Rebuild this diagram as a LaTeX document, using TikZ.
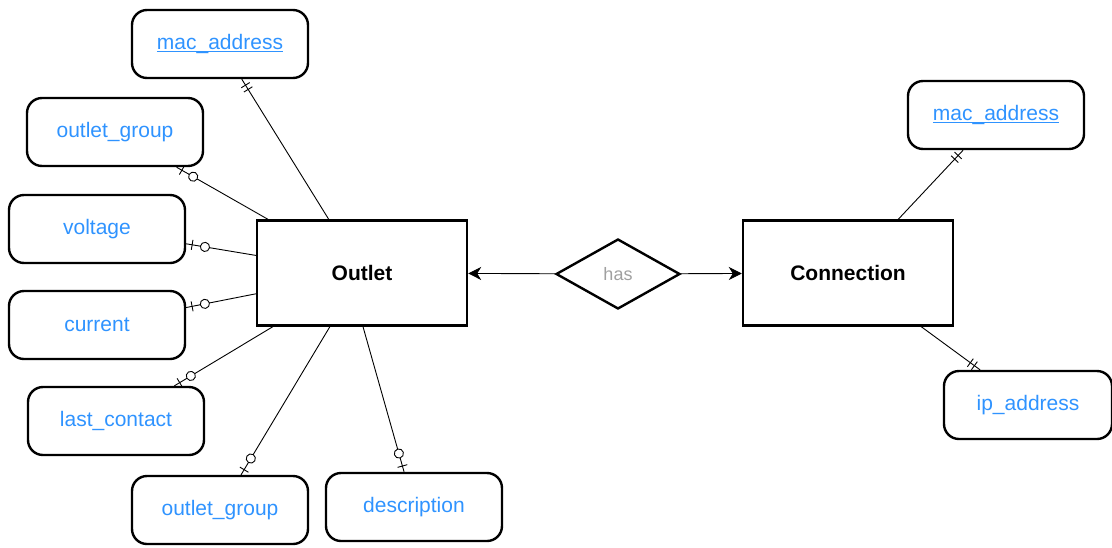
\documentclass[tikz,border=0pt]{standalone}
\usepackage{fontspec}
\setmainfont{Liberation Sans}
\usetikzlibrary{arrows.meta,shapes.geometric,decorations.markings,calc}
\definecolor{attrblue}{HTML}{2F93FF}
\definecolor{relgray}{HTML}{A0A0A0}
\newcommand{\keyattr}[1]{\underline{\smash{#1}}\vphantom{#1}}
\begin{document}
\begin{tikzpicture}[x=1pt,y=-1pt,
  attr/.style={draw, line width=2.4pt, rounded corners=15pt, minimum width=176pt, minimum height=68pt,
    text=attrblue, font=\fontsize{21}{25}\selectfont, inner sep=0pt},
  ent/.style={draw, line width=2.4pt, minimum width=210pt, minimum height=105pt,
    font=\bfseries\fontsize{21}{25}\selectfont, inner sep=0pt},
  rel/.style={draw, diamond, line width=2.4pt, minimum width=124pt, minimum height=70pt,
    text=relgray, font=\fontsize{18}{22}\selectfont, inner sep=0pt},
  conn/.style={draw, line width=0.9pt},
  onlyone/.style={conn, postaction={decorate, decoration={markings,
    mark=at position -7pt with {\draw[line width=0.9pt] (0,-5pt)--(0,5pt);},
    mark=at position -12pt with {\draw[line width=0.9pt] (0,-5pt)--(0,5pt);}}}},
  zeroone/.style={conn, postaction={decorate, decoration={markings,
    mark=at position -6pt with {\draw[line width=0.9pt] (0,-5pt)--(0,5pt);},
    mark=at position -19pt with {\draw[line width=0.9pt, fill=white] (0,0) circle (4.6pt);}}}},
  relarrow/.style={conn, -{Stealth[length=13pt,width=13pt,inset=4pt]}}
]
\useasboundingbox (0,0) rectangle (1112,547);

\node[ent] (outlet) at (362,273) {Outlet};
\node[ent] (connection) at (848,273) {Connection};
\node[rel] (has) at (618,274) {has};

\node[attr] (macL) at (220,44) {\keyattr{mac\_address}};
\node[attr] (ogTop) at (115,132) {outlet\_group};
\node[attr] (volt) at (97,229) {voltage};
\node[attr] (curr) at (97,325) {current};
\node[attr] (last) at (116,421) {last\_contact};
\node[attr] (ogBot) at (220,510) {outlet\_group};
\node[attr] (desc) at (414,507) {description};
\node[attr] (macR) at (996,115) {\keyattr{mac\_address}};
\node[attr, minimum width=168pt] (ip) at (1028,405) {ip\_address};

\draw[onlyone] (outlet) -- (macL);
\draw[zeroone] (outlet) -- (ogTop);
\draw[zeroone] (outlet) -- (volt);
\draw[zeroone] (outlet) -- (curr);
\draw[zeroone] (outlet) -- (last);
\draw[zeroone] (outlet) -- (ogBot);
\draw[zeroone] ([xshift=1pt]outlet.south) -- (desc);
\draw[onlyone] (connection) -- (macR);
\draw[onlyone] (connection) -- (ip);

\draw[relarrow] (has) -- (outlet);
\draw[relarrow] (has) -- (connection);
\end{tikzpicture}
\end{document}
